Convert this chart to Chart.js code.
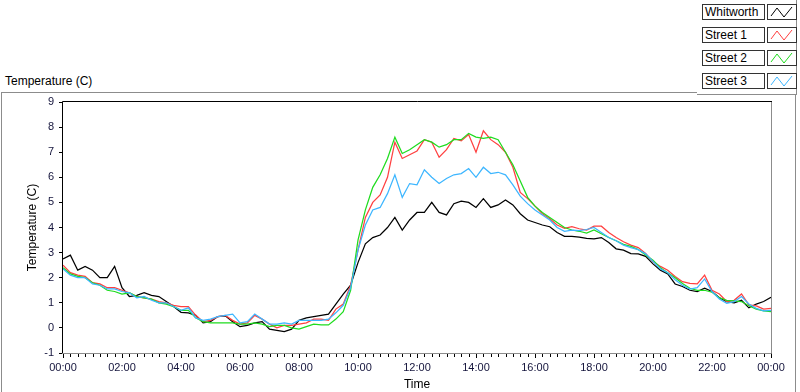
<!DOCTYPE html>
<html lang="en">
<head>
    <meta charset="UTF-8">
    <title>Temperature chart</title>
    <script src="https://cdn.jsdelivr.net/npm/chart.js"></script>
    <style>
        body { margin: 0; background: #ffffff; font-family: 'Liberation Sans', Arial, sans-serif; }
        #wrap { position: relative; width: 800px; height: 392px; overflow: hidden; }
        #chart { position: absolute; left: 0; top: 0; }
        .frame { position: absolute; left: 1px; top: 92px; width: 793px; height: 310px; border: 1px solid #8c8c8c; }
        .top-label { position: absolute; left: 5px; top: 74px; font-size: 12px; line-height: 14px; color: #000; }
        .legend-panel { position: absolute; left: 697px; top: -2px; width: 99px; height: 96px; border-right: 1px solid #8c8c8c; border-bottom: 1px solid #8c8c8c; background: #fff; }
        .leg-name { position: absolute; left: 702px; width: 59px; height: 14px; border: 1px solid #333; font-size: 12px; line-height: 14px; padding-left: 2px; box-sizing: content-box; color: #000; background: #fff; }
        .leg-icon { position: absolute; left: 767px; width: 28px; height: 14px; border: 1px solid #333; background: #fff; }
    </style>
</head>
<body>
<div id="wrap">
    <div class="frame"></div>
    <div class="top-label">Temperature (C)</div>
    <div class="legend-panel"></div>
    <div id="legend"></div>
    <canvas id="chart" width="800" height="392"></canvas>
</div>

<script>
    // sample times in hours, one reading every 15 minutes
    const times = Array.from({ length: 97 }, (_, i) => i / 4);

    const seriesNames = ['Whitworth', 'Street 1', 'Street 2', 'Street 3'];
    const seriesColors = ['#000000', '#ff4040', '#1fdc1f', '#3db6ff'];

    const whitworth = [
        2.75, 2.9, 2.3, 2.45, 2.3, 2.0, 2.0, 2.45, 1.6, 1.25, 1.3, 1.4, 1.3, 1.25, 1.05, 0.85,
        0.62, 0.6, 0.5, 0.2, 0.25, 0.45, 0.48, 0.25, 0.05, 0.1, 0.2, 0.25, -0.05, -0.1, -0.15, -0.05,
        0.3, 0.4, 0.45, 0.5, 0.55, 0.95, 1.35, 1.7, 2.6, 3.35, 3.6, 3.7, 4.0, 4.4, 3.9, 4.3,
        4.6, 4.6, 5.0, 4.6, 4.5, 4.95, 5.05, 5.0, 4.8, 5.15, 4.8, 4.9, 5.1, 4.9, 4.55, 4.3,
        4.2, 4.1, 4.03, 3.8, 3.65, 3.65, 3.62, 3.57, 3.55, 3.6, 3.4, 3.15, 3.1, 2.96, 2.95, 2.85,
        2.55, 2.3, 2.15, 1.75, 1.65, 1.5, 1.45, 1.58, 1.45, 1.2, 1.05, 1.0, 1.1, 0.8, 0.95, 1.05, 1.22
    ];
    const street1 = [
        2.5, 2.2, 2.1, 2.05, 1.8, 1.75, 1.6, 1.6, 1.5, 1.4, 1.25, 1.2, 1.15, 1.05, 1.0, 0.9,
        0.85, 0.85, 0.5, 0.25, 0.3, 0.45, 0.5, 0.3, 0.15, 0.2, 0.5, 0.35, 0.15, 0.0, 0.1, 0.1,
        0.15, 0.2, 0.35, 0.35, 0.3, 0.75, 0.95, 1.7, 3.1, 4.4, 5.0, 5.3, 6.0, 7.4, 6.75, 6.9,
        7.05, 7.5, 7.4, 6.8, 7.1, 7.55, 7.45, 7.7, 7.0, 7.85, 7.5, 7.3, 7.0, 6.4, 5.4, 5.15,
        4.85, 4.55, 4.35, 4.1, 3.97, 4.03, 3.95, 3.9, 4.05, 4.05, 3.8, 3.6, 3.43, 3.3, 3.2, 2.97,
        2.64, 2.45, 2.3, 2.05, 1.84, 1.77, 1.75, 2.1, 1.5, 1.35, 1.05, 1.1, 1.35, 0.92, 0.88, 0.75, 0.78
    ];
    const street2 = [
        2.4, 2.15, 2.05, 2.0, 1.8, 1.7, 1.5, 1.45, 1.35, 1.4, 1.25, 1.2, 1.15, 1.0, 0.95, 0.85,
        0.7, 0.7, 0.4, 0.25, 0.2, 0.2, 0.2, 0.2, 0.15, 0.15, 0.2, 0.15, 0.05, 0.1, 0.1, 0.0,
        -0.05, 0.05, 0.15, 0.12, 0.12, 0.35, 0.65, 1.5, 3.5, 4.7, 5.6, 6.1, 6.75, 7.6, 6.95, 7.1,
        7.3, 7.5, 7.4, 7.2, 7.3, 7.5, 7.5, 7.75, 7.6, 7.55, 7.6, 7.5, 7.0, 6.5, 5.85, 5.2,
        4.85, 4.6, 4.4, 4.2, 4.0, 3.9, 3.85, 3.78, 3.9, 3.75, 3.6, 3.47, 3.33, 3.25, 3.12, 2.9,
        2.7, 2.4, 2.2, 2.0, 1.77, 1.58, 1.5, 1.5, 1.42, 1.2, 1.1, 1.08, 1.05, 0.88, 0.75, 0.68, 0.65
    ];
    const street3 = [
        2.35, 2.1, 2.0, 2.0, 1.75, 1.7, 1.55, 1.55, 1.45, 1.4, 1.2, 1.25, 1.1, 1.0, 1.0, 0.85,
        0.7, 0.8, 0.4, 0.3, 0.35, 0.45, 0.5, 0.55, 0.2, 0.25, 0.55, 0.35, 0.15, 0.15, 0.2, 0.15,
        0.3, 0.3, 0.3, 0.3, 0.35, 0.6, 0.9, 1.6, 3.1, 4.1, 4.7, 4.8, 5.35, 6.1, 5.2, 5.75,
        5.7, 6.3, 6.0, 5.75, 5.95, 6.1, 6.15, 6.35, 6.0, 6.4, 6.15, 6.2, 6.1, 5.7, 5.25, 4.95,
        4.7, 4.5, 4.3, 4.0, 3.85, 3.9, 3.88, 3.92, 4.0, 3.8, 3.6, 3.47, 3.3, 3.2, 3.12, 2.95,
        2.65, 2.35, 2.2, 1.92, 1.7, 1.55, 1.6, 1.95, 1.45, 1.15, 0.98, 1.05, 1.25, 0.95, 0.78, 0.68, 0.7
    ];
    const allSeries = [whitworth, street1, street2, street3];

    const tickFont = { family: "'Liberation Sans', Arial, sans-serif", size: 11 };
    const titleFont = { family: "'Liberation Sans', Arial, sans-serif", size: 12 };
    const tickColor = '#14143c';

    // legend boxes (html)
    const legend = document.getElementById('legend');
    seriesNames.forEach((name, i) => {
        const top = 4 + i * 23;
        legend.insertAdjacentHTML('beforeend',
            `<div class="leg-name" style="top:${top}px">${name}</div>` +
            `<div class="leg-icon" style="top:${top}px"><svg width="28" height="14">` +
            `<polyline points="3,11 9,3 16,12 24,2" fill="none" stroke="${seriesColors[i]}" stroke-width="1"/></svg></div>`);
    });

    // LabVIEW style frame + 15 minute minor ticks
    const framePlugin = {
        id: 'frame',
        afterDatasetsDraw(chart) {
            const { ctx, chartArea: a, scales: { x } } = chart;
            ctx.save();
            ctx.lineWidth = 1;
            ctx.strokeStyle = '#000';
            ctx.beginPath();
            ctx.moveTo(a.left - 0.5, a.bottom);
            ctx.lineTo(a.left - 0.5, a.top - 0.5);
            ctx.lineTo(a.right + 1, a.top - 0.5);
            ctx.stroke();
            ctx.strokeStyle = '#8c8c8c';
            ctx.beginPath();
            ctx.moveTo(a.right + 0.5, a.top);
            ctx.lineTo(a.right + 0.5, a.bottom + 0.5);
            ctx.lineTo(a.left - 1, a.bottom + 0.5);
            ctx.stroke();
            ctx.strokeStyle = '#000';
            ctx.beginPath();
            for (let q = 0; q <= 96; q++) {
                if (q % 8 === 0) continue;
                const px = Math.round(x.getPixelForValue(q / 4)) + 0.5;
                ctx.moveTo(px, a.bottom + 1);
                ctx.lineTo(px, a.bottom + 4);
            }
            ctx.stroke();
            ctx.restore();
        }
    };

    window.onload = () => {
        const ctx = document.getElementById('chart').getContext('2d');
        new Chart(ctx, {
            type: 'line',
            data: {
                datasets: allSeries.map((vals, i) => ({
                    label: seriesNames[i],
                    data: vals.map((v, k) => ({ x: times[k], y: v })),
                    borderColor: seriesColors[i],
                    borderWidth: 1.25,
                    pointRadius: 0,
                    tension: 0,
                    order: 4 - i
                }))
            },
            options: {
                responsive: false,
                animation: false,
                layout: { padding: { left: 0, top: 102, right: 29, bottom: 0 } },
                plugins: { legend: { display: false }, tooltip: { enabled: false } },
                scales: {
                    x: {
                        type: 'linear', min: 0, max: 24,
                        afterFit: s => { s.height = 39; },
                        grid: { drawOnChartArea: false, tickLength: 5, color: '#000' },
                        border: { display: false },
                        ticks: {
                            stepSize: 2, autoSkip: false, maxRotation: 0, padding: 3,
                            color: tickColor, font: tickFont,
                            callback: v => String(v % 24).padStart(2, '0') + ':00'
                        },
                        title: { display: true, text: 'Time', color: '#000', font: titleFont, padding: { top: 0, bottom: 0 } }
                    },
                    y: {
                        min: -1, max: 9,
                        afterFit: s => { s.width = 63; },
                        grid: { drawOnChartArea: false, tickLength: 4, color: '#000' },
                        border: { display: false },
                        ticks: { stepSize: 1, padding: 5, color: tickColor, font: tickFont },
                        title: { display: true, text: 'Temperature (C)', color: '#000', font: titleFont, padding: { top: 25, bottom: 0 } }
                    }
                }
            },
            plugins: [framePlugin]
        });
    };
</script>
</body>
</html>
